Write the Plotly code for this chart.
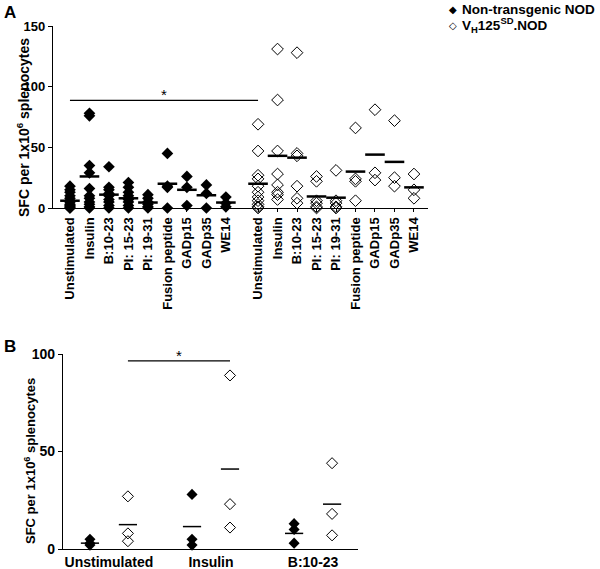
import plotly.graph_objects as go

# ---------------- data ----------------
cats_a = ["Unstimulated", "Insulin", "B:10-23", "PI: 15-23", "PI: 19-31",
          "Fusion peptide", "GADp15", "GADp35", "WE14"]
nt_a = [
    [18, 15, 13, 10, 8, 6, 5, 3, 2, 1, 0, 0],
    [78, 76, 35, 29, 16, 10, 8, 5, 3, 1, 0],
    [34, 17, 15, 12, 10, 7, 5, 2, 0],
    [21, 17, 13, 10, 7, 5, 2, 0],
    [11, 8, 5, 3, 1, 0],
    [45, 18, 17, 0],
    [26, 17, 2],
    [19, 12, 0],
    [9, 4, 1],
]
nt_a_mean = [6, 26, 11, 8, 4.5, 20, 15, 10.5, 4.5]
vh_a = [
    [69, 47, 27, 24, 18, 13, 9, 6, 3, 1, 0],
    [131, 89, 47, 28, 19, 13, 11, 7],
    [128, 45, 43, 18, 8, 4],
    [26, 22, 6, 4, 1, 0],
    [31, 6, 4, 1, 0],
    [66, 24, 22, 6],
    [81, 29, 23],
    [72, 25, 18],
    [28, 15, 8],
]
vh_a_mean = [20, 43, 41.5, 9.5, 8.5, 30, 44, 38, 17]
sig_a_y = 88.7

cats_b = ["Unstimulated", "Insulin", "B:10-23"]
nt_b = [[5, 3, 2], [28, 5, 2], [13, 10, 3]]
nt_b_mean = [3, 11.5, 8]
vh_b = [[27, 8, 4], [89, 23, 11], [44, 18, 7]]
vh_b_mean = [12.5, 41, 23]
sig_b_y = 96.5

series_names = ["Non-transgenic NOD", "V<sub>H</sub>125<sup>SD</sup>.NOD"]
series_symbols = ["◆", "◇"]

# ---------------- layout helpers ----------------
W, H = 600, 569
FONT = "Liberation Sans, Arial, sans-serif"
GROUP_GAP = 9.65   # x offset of the second group in panel A
B_OFF = 0.186      # within-group offset in panel B

pos_nt_a = [i for i in range(len(cats_a))]
pos_vh_a = [GROUP_GAP + i for i in range(len(cats_a))]
pos_nt_b = [i - B_OFF for i in range(len(cats_b))]
pos_vh_b = [i + B_OFF for i in range(len(cats_b))]

fig = go.Figure()

filled = dict(symbol="diamond", size=9, color="black", line=dict(width=0))
hollow = dict(symbol="diamond-open", size=9, color="black", line=dict(width=1, color="black"))

def add_points(xs, groups, means, marker, name, xa, ya, msize, mean_w, mean_len):
    for x, vals in zip(xs, groups):
        m = dict(marker)
        m["size"] = msize
        fig.add_trace(go.Scatter(
            x=[x] * len(vals), y=vals, mode="markers", marker=m,
            name=name, showlegend=False,
            cliponaxis=False, xaxis=xa, yaxis=ya, hoverinfo="y"))
    fig.add_trace(go.Scatter(
        x=xs, y=means, mode="markers",
        marker=dict(symbol="line-ew", size=mean_len, color="black",
                    line=dict(width=mean_w, color="black")),
        showlegend=False, cliponaxis=False, xaxis=xa, yaxis=ya, hoverinfo="y"))

add_points(pos_nt_a, nt_a, nt_a_mean, filled, series_names[0], "x", "y", 9, 2.5, 14)
add_points(pos_vh_a, vh_a, vh_a_mean, hollow, series_names[1], "x", "y", 9, 2.5, 14)
add_points(pos_nt_b, nt_b, nt_b_mean, filled, series_names[0], "x2", "y2", 8.5, 1.5, 13)
add_points(pos_vh_b, vh_b, vh_b_mean, hollow, series_names[1], "x2", "y2", 8.5, 1.5, 13)

axis_common = dict(showgrid=False, zeroline=False, showline=True, linecolor="black",
                   linewidth=1.3, tickcolor="black", ticks="outside", automargin=False)

fig.update_layout(
    template="none",
    width=W, height=H, margin=dict(l=0, r=0, t=0, b=0, pad=0),
    paper_bgcolor="white", plot_bgcolor="white",
    font=dict(family=FONT, color="black"),
    showlegend=False,
    xaxis=dict(domain=[53 / W, 428 / W], range=[-0.87, 18.37], anchor="y",
               tickvals=pos_nt_a + pos_vh_a, ticktext=cats_a + cats_a,
               tickangle=-90, ticklen=3, tickwidth=1,
               tickfont=dict(size=13, weight="bold", family=FONT), **axis_common),
    yaxis=dict(domain=[1 - 208 / H, 1 - 26 / H], range=[0, 150], anchor="x",
               tickvals=[0, 50, 100, 150], ticklen=4, tickwidth=1,
               tickfont=dict(size=13, weight="bold", family=FONT), **axis_common),
    xaxis2=dict(domain=[63 / W, 358 / W], range=[-0.45, 2.44], anchor="y2",
                tickvals=[0, 1, 2], ticktext=cats_b, ticklen=0,
                tickfont=dict(size=14, weight="bold", family=FONT), **axis_common),
    yaxis2=dict(domain=[1 - 549 / H, 1 - 354 / H], range=[0, 100], anchor="x2",
                tickvals=[0, 50, 100], ticklen=4, tickwidth=1,
                tickfont=dict(size=14, weight="bold", family=FONT), **axis_common),
)

# legend (symbol + label) in the top-right corner
for k, (sym, name) in enumerate(zip(series_symbols, series_names)):
    yk = 1 - (10 + 15 * k) / H
    fig.add_annotation(xref="paper", yref="paper", x=453 / W, y=yk, text=sym,
                       showarrow=False, xanchor="center", yanchor="middle",
                       font=dict(size=10, family="DejaVu Sans", color="black"))
    fig.add_annotation(xref="paper", yref="paper", x=460 / W, y=yk, text=name,
                       showarrow=False, xanchor="left", yanchor="middle",
                       font=dict(size=13.5, weight="bold", family=FONT))

# significance lines
fig.add_shape(type="line", xref="x", yref="y", x0=pos_nt_a[0], x1=pos_vh_a[0],
              y0=sig_a_y, y1=sig_a_y, line=dict(color="black", width=1.3))
fig.add_annotation(xref="x", yref="y", x=(pos_nt_a[0] + pos_vh_a[0]) / 2, y=sig_a_y,
                   text="*", showarrow=False, xanchor="center", yanchor="bottom", yshift=-5,
                   font=dict(size=15, family=FONT))
fig.add_shape(type="line", xref="x2", yref="y2", x0=pos_vh_b[0], x1=pos_vh_b[1],
              y0=sig_b_y, y1=sig_b_y, line=dict(color="black", width=1.3))
fig.add_annotation(xref="x2", yref="y2", x=(pos_vh_b[0] + pos_vh_b[1]) / 2, y=sig_b_y,
                   text="*", showarrow=False, xanchor="center", yanchor="bottom", yshift=-5,
                   font=dict(size=15, family=FONT))

# axis titles and panel letters
ytitle = "SFC per 1x10<sup>6</sup> splenocytes"
fig.add_annotation(xref="paper", yref="paper", x=23 / W, y=1 - 128 / H, text=ytitle,
                   textangle=-90, showarrow=False, xanchor="center", yanchor="middle",
                   font=dict(size=14, weight="bold", family=FONT))
fig.add_annotation(xref="paper", yref="paper", x=30 / W, y=1 - 461 / H, text=ytitle,
                   textangle=-90, showarrow=False, xanchor="center", yanchor="middle",
                   font=dict(size=13, weight="bold", family=FONT))
fig.add_annotation(xref="paper", yref="paper", x=2 / W, y=1 - 1 / H, text="A",
                   xanchor="left", yanchor="top", showarrow=False,
                   font=dict(size=17, weight="bold", family=FONT))
fig.add_annotation(xref="paper", yref="paper", x=2 / W, y=1 - 335 / H, text="B",
                   xanchor="left", yanchor="top", showarrow=False,
                   font=dict(size=17, weight="bold", family=FONT))

fig.write_html(
    "out.html",
    config={"displayModeBar": False},
    post_script="document.body.style.margin='0';document.body.style.padding='0';"
                "document.body.style.overflow='hidden';",
)
